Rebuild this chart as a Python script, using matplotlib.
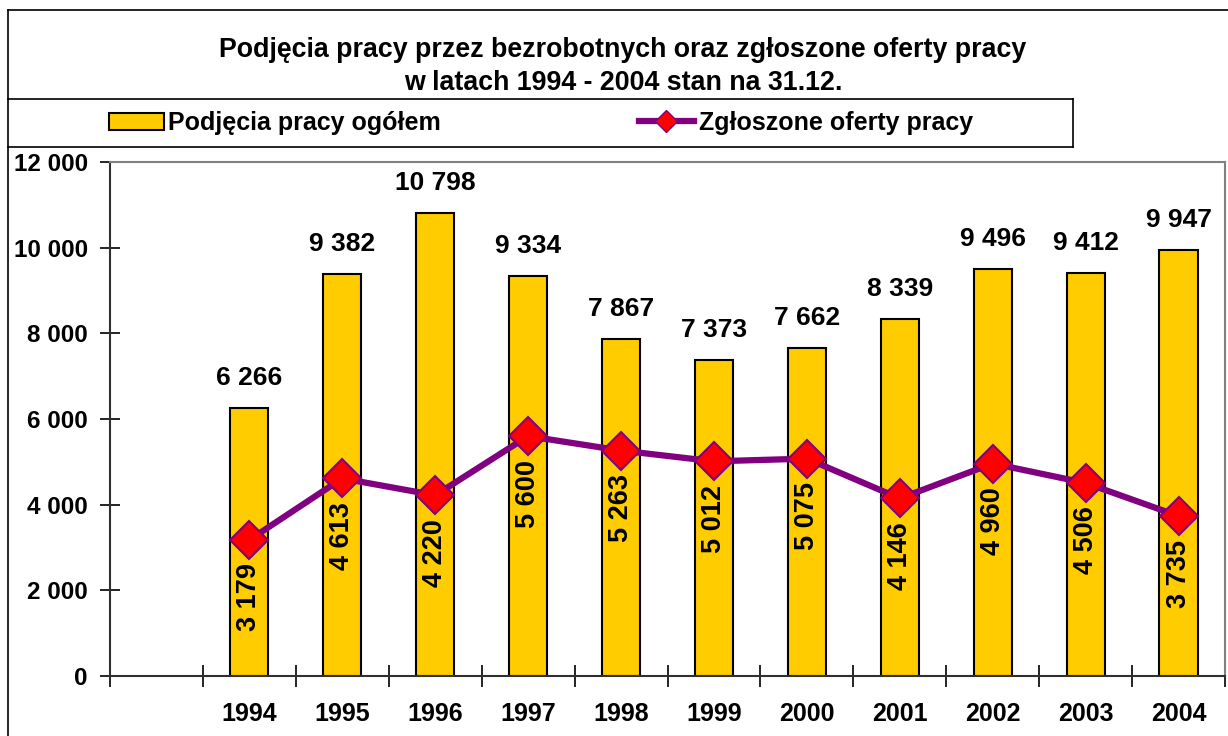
"""Podjecia pracy vs zgloszone oferty pracy 1994-2004 - bar + line chart."""
import matplotlib
matplotlib.use("Agg")
import matplotlib.pyplot as plt
import matplotlib.ticker as ticker
from matplotlib.lines import Line2D
from matplotlib.patches import Patch

plt.rcParams["font.family"] = ["Liberation Sans", "DejaVu Sans"]
plt.rcParams["font.weight"] = "bold"

years = ["1994", "1995", "1996", "1997", "1998", "1999",
         "2000", "2001", "2002", "2003", "2004"]
podjecia = [6266, 9382, 10798, 9334, 7867, 7373, 7662, 8339, 9496, 9412, 9947]
oferty = [3179, 4613, 4220, 5600, 5263, 5012, 5075, 4146, 4960, 4506, 3735]

title = "Podjęcia pracy przez bezrobotnych oraz zgłoszone oferty pracy\nw latach 1994 - 2004 stan na 31.12."
label_bars = "Podjęcia pracy ogółem"
label_line = "Zgłoszone oferty pracy"

YELLOW = "#FFCC00"
PURPLE = "#800080"
RED = "#FF0000"


def fmt(v):
    return f"{v:,.0f}".replace(",", " ")


W, H = 1228, 736
fig = plt.figure(figsize=(W / 100, H / 100), dpi=100)

# outer frame lines (pixel coords -> figure fraction)
def hline(y, x0, x1):
    fig.add_artist(Line2D([x0 / W, x1 / W], [1 - y / H, 1 - y / H],
                          color="black", lw=1.2, transform=fig.transFigure))

def vline(x, y0, y1):
    fig.add_artist(Line2D([x / W, x / W], [1 - y0 / H, 1 - y1 / H],
                          color="black", lw=1.2, transform=fig.transFigure))

hline(10, 8, W)
vline(8, 10, H)
hline(99, 8, 1073)
hline(147, 8, 1073)
vline(1073, 99, 147)

fig.text(623 / W, 1 - 66.5 / H, title, ha="center", va="center",
         fontsize=19.3, fontweight="bold", linespacing=1.35)

ax = fig.add_axes([110 / W, 1 - 676 / H, (1225 - 110) / W, (676 - 162) / H])

x = list(range(1, len(years) + 1))
ax.bar(x, podjecia, width=0.41, color=YELLOW, edgecolor="black", linewidth=1.5, zorder=2)
ax.plot(x, oferty, color=PURPLE, lw=4.5, marker="D", markersize=19,
        markerfacecolor=RED, markeredgecolor=PURPLE, markeredgewidth=1.5, zorder=3)

for xi, v in zip(x, podjecia):
    ax.annotate(fmt(v), (xi, v), xytext=(0, 13), textcoords="offset points",
                ha="center", va="bottom", fontsize=19, fontweight="bold")
for xi, v in zip(x, oferty):
    ax.annotate(fmt(v), (xi, v), xytext=(0, -17), textcoords="offset points",
                ha="center", va="top", rotation=90, fontsize=19.5, fontweight="bold",
                zorder=4)

ax.set_xlim(-0.5, len(years) + 0.5)
ax.set_ylim(0, 12000)
ax.yaxis.set_major_locator(ticker.MultipleLocator(2000))
ax.yaxis.set_major_formatter(ticker.FuncFormatter(lambda v, _: fmt(v)))
ax.tick_params(axis="y", direction="inout", length=14, width=1.2, labelsize=17.5, pad=9)

# category boundaries as major ticks, year labels at centres
ax.set_xticks([i + 0.5 for i in range(-1, len(years) + 1)])
ax.set_xticklabels([])
ax.set_xticks(x, minor=True)
ax.set_xticklabels(years, minor=True)
ax.tick_params(axis="x", which="major", direction="inout", length=16, width=1.2)
ax.tick_params(axis="x", which="minor", length=0, labelsize=18, pad=19)

for s in ("top", "right"):
    ax.spines[s].set_color("#808080")
    ax.spines[s].set_linewidth(1.5)
for s in ("left", "bottom"):
    ax.spines[s].set_color("#303030")
    ax.spines[s].set_linewidth(1.5)

handles = [
    Patch(facecolor=YELLOW, edgecolor="black", linewidth=1.5),
    Line2D([0], [0], color=PURPLE, lw=4.5, marker="D", markersize=11,
           markerfacecolor=RED, markeredgecolor=PURPLE),
]
fig.legend(handles, [label_bars, label_line], loc="center left",
           bbox_to_anchor=(86 / W, 1 - 123 / H), ncol=2, frameon=False,
           handlelength=2.2, handletextpad=0.2, columnspacing=7.9,
           prop={"weight": "bold", "size": 18})

fig.savefig("out.png", dpi=100)
